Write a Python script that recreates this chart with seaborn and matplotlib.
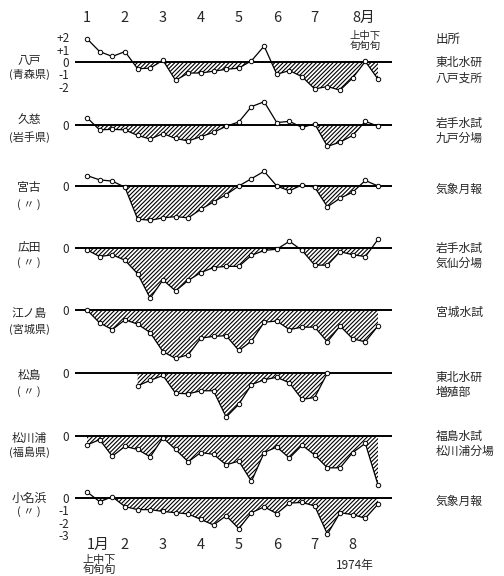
import numpy as np
import matplotlib
matplotlib.use("Agg")
import matplotlib.pyplot as plt
import seaborn as sns

# ---------------- data ----------------
months_top = ['1', '2', '3', '4', '5', '6', '7', '8月']
months_bottom = ['1月', '2', '3', '4', '5', '6', '7', '8']
period_label = '上中下\n旬旬旬'
year_label = '1974年'
header_source = '出所'

stations = ['八戸', '久慈', '宮古', '広田', '江ノ島', '松島', '松川浦', '小名浜']
prefectures = ['(青森県)', '(岩手県)', '( 〃 )', '( 〃 )', '(宮城県)', '( 〃 )', '(福島県)', '( 〃 )']
sources = ['東北水研\n八戸支所', '岩手水試\n九戸分場', '気象月報', '岩手水試\n気仙分場',
           '宮城水試', '東北水研\n増殖部', '福島水試\n松川浦分場', '気象月報']

# 10-day periods: Jan 上 ... Aug 下 (24 values)
hachinohe = [1.9, 0.85, 0.45, 0.85, -0.55, -0.5, 0.15, -1.5, -0.9, -0.9, -0.75, -0.6,
             -0.5, 0.1, 1.3, -1.0, -0.7, -1.2, -2.2, -2.0, -2.3, -1.3, 0.05, -1.4]
kuji = [0.6, -0.4, -0.35, -0.4, -0.85, -1.15, -0.7, -1.1, -1.3, -0.95, -0.6, -0.1,
        0.25, 1.5, 1.9, 0.2, 0.3, -0.2, 0.1, -1.75, -1.4, -0.85, 0.3, -0.1]
miyako = [0.85, 0.5, 0.4, -0.1, -2.7, -2.8, -2.6, -2.5, -2.6, -1.9, -1.3, -0.7,
          0.0, 0.6, 1.2, 0.0, -0.4, 0.1, -0.1, -1.7, -1.0, -0.5, 0.45, 0.0]
hirota = [-0.15, -0.7, -0.55, -1.0, -2.1, -4.1, -2.6, -3.5, -2.65, -2.0, -1.6, -1.5,
          -1.5, -0.6, -0.2, -0.1, 0.55, -0.2, -1.4, -1.4, -0.3, -0.55, -0.7, 0.7]
enoshima = [0.0, -1.05, -1.6, -0.8, -1.15, -1.85, -3.4, -3.95, -3.65, -2.3, -2.15, -2.1,
            -3.3, -2.55, -1.0, -0.9, -1.6, -1.4, -1.4, -2.6, -1.3, -2.35, -2.6, -1.3]
matsushima = [np.nan, np.nan, np.nan, np.nan, -1.05, -0.6, -0.2, -1.65, -1.7, -1.45, -1.45, -3.6,
              -2.55, -0.95, -0.55, -0.35, -0.8, -2.15, -2.0, 0.0, np.nan, np.nan, np.nan, np.nan]
matsukawaura = [-0.73, -0.3, -1.65, -0.85, -1.1, -1.7, -0.15, -1.1, -2.1, -1.35, -1.5, -2.35,
                -2.05, -3.7, -1.35, -0.9, -1.8, -0.75, -1.55, -2.6, -2.6, -1.35, -0.6, -4.0]
onahama = [0.5, -0.3, 0.1, -0.7, -0.95, -0.95, -1.1, -1.2, -1.3, -1.75, -2.2, -1.45,
           -2.5, -1.2, -0.72, -1.27, -0.42, -0.36, -0.65, -2.95, -1.2, -1.36, -1.65, -0.5]

series = [hachinohe, kuji, miyako, hirota, enoshima, matsushima, matsukawaura, onahama]

ticks_first = [2, 1, 0, -1, -2]
ticklabels_first = ['+2', '+1', '0', '-1', '-2']
ticks_last = [0, -1, -2, -3]
ticklabels_last = ['0', '-1', '-2', '-3']

# ---------------- style ----------------
sns.set_style('white')
plt.rcParams['font.family'] = ['Noto Sans CJK JP', 'DejaVu Sans']
plt.rcParams['hatch.linewidth'] = 0.8

W, H = 504, 576
fig = plt.figure(figsize=(W / 100, H / 100), dpi=100)
fig.patch.set_facecolor('white')

AXL, AXR = 75, 392
X0PX, DX = 87, 291 / 23
xlim = (-(X0PX - AXL) / DX, (AXR - X0PX) / DX)
UNIT = 12.25
bases = [62, 125, 186, 248, 310, 373, 436, 498]
above = 34
below = [56, 56, 56, 56, 56, 56, 56, 39]
name_dy = [-2, -5, 1, 0, 4, 2, 2, 0]
pref_dy = [12, 12, 19, 15, 19, 19, 16, 14]
src_dy = [8, 6, 3, 8, 2, 12, 8, 3]

idx = np.arange(24)
month_idx = np.arange(0, 24, 3)

axes = []
for k, vals in enumerate(series):
    base = bases[k]
    top = base - above
    bot = base + below[k]
    ax = fig.add_axes([AXL / W, 1 - bot / H, (AXR - AXL) / W, (bot - top) / H])
    ax.patch.set_alpha(0)
    ax.set_xlim(xlim)
    ax.set_ylim(-below[k] / UNIT, above / UNIT)
    for s in ax.spines.values():
        s.set_visible(False)

    v = np.asarray(vals, dtype=float)
    valid = ~np.isnan(v)
    x = idx[valid]
    y = v[valid]

    ax.axhline(0, color='black', lw=1.4, zorder=2)
    ax.fill_between(x, y, 0, where=y <= 0, interpolate=True, facecolor='none',
                    edgecolor='black', hatch='////////', linewidth=0, zorder=1)
    sns.lineplot(x=x, y=y, ax=ax, color='black', lw=0.9, marker='o', markersize=3.2,
                 markerfacecolor='white', markeredgecolor='black', markeredgewidth=0.7,
                 zorder=3, legend=False)
    ax.set_xlabel('')
    ax.set_ylabel('')

    if k == 0:
        ax.set_yticks(ticks_first)
        ax.set_yticklabels(ticklabels_first, fontsize=8.5)
    elif k == len(series) - 1:
        ax.set_yticks(ticks_last)
        ax.set_yticklabels(ticklabels_last, fontsize=8.5)
    else:
        ax.set_yticks([0])
        ax.set_yticklabels(['0'], fontsize=8.5)
    ax.tick_params(axis='y', length=0, pad=4)

    if k == 0:
        ax.xaxis.set_ticks_position('top')
        ax.set_xticks(month_idx)
        ax.set_xticklabels(months_top, fontsize=10.5)
        ax.tick_params(axis='x', length=0, pad=2.5)
        ax.get_xticklabels()[-1].set_horizontalalignment('left')
        ax.annotate(period_label, xy=(22, 1), xycoords=('data', 'axes fraction'),
                    xytext=(0, -3), textcoords='offset pixels', ha='center', va='top',
                    fontsize=7.5, linespacing=1.0)
    elif k == len(series) - 1:
        ax.set_xticks(month_idx)
        ax.set_xticklabels(months_bottom, fontsize=10.5)
        ax.tick_params(axis='x', length=0, pad=1)
        ax.get_xticklabels()[0].set_horizontalalignment('left')
        ax.annotate(period_label, xy=(1, 0), xycoords=('data', 'axes fraction'),
                    xytext=(0, -18), textcoords='offset pixels', ha='center', va='top',
                    fontsize=8, linespacing=1.0)
    else:
        ax.set_xticks([])
    axes.append(ax)

    # station names (left) and sources (right)
    fig.text(29 / W, 1 - (base + name_dy[k]) / H, stations[k], ha='center', va='center', fontsize=8.5)
    fig.text(29 / W, 1 - (base + pref_dy[k]) / H, prefectures[k], ha='center', va='center', fontsize=8)
    fig.text(436 / W, 1 - (base + src_dy[k]) / H, sources[k], ha='left', va='center',
             fontsize=8.5, linespacing=1.25)

fig.text(436 / W, 1 - 39 / H, header_source, ha='left', va='center', fontsize=9)
fig.text(355 / W, 1 - 566 / H, year_label, ha='center', va='center', fontsize=8.5)

fig.savefig('out.png', dpi=100, facecolor='white')
